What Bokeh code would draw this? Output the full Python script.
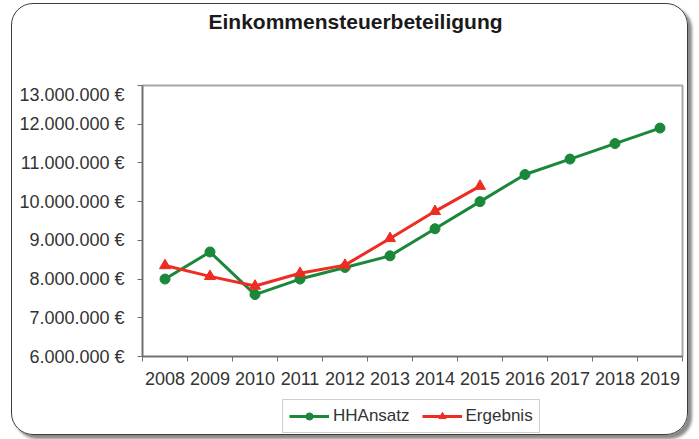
from bokeh.plotting import figure
from bokeh.models import FixedTicker, Legend, LegendItem
from bokeh.layouts import column
from bokeh.embed import file_html
from bokeh.resources import INLINE

title_text = "Einkommensteuerbeteiligung"
years = [2008, 2009, 2010, 2011, 2012, 2013, 2014, 2015, 2016, 2017, 2018, 2019]
hh_ansatz = [8.0e6, 8.7e6, 7.6e6, 8.0e6, 8.3e6, 8.6e6, 9.3e6, 10.0e6, 10.7e6, 11.1e6, 11.5e6, 11.9e6]
ergebnis_years = [2008, 2009, 2010, 2011, 2012, 2013, 2014, 2015]
ergebnis = [8.35e6, 8.07e6, 7.82e6, 8.15e6, 8.36e6, 9.05e6, 9.75e6, 10.4e6]
y_ticks = [6e6, 7e6, 8e6, 9e6, 10e6, 11e6, 12e6, 13e6]
y_tick_labels = ["6.000.000 €", "7.000.000 €", "8.000.000 €", "9.000.000 €",
                 "10.000.000 €", "11.000.000 €", "12.000.000 €", "13.000.000 €"]
series_names = ["HHAnsatz", "Ergebnis"]

GREEN = "#1a873a"
RED = "#ee2c22"
FONT = "Liberation Sans"


def strip(height):
    f = figure(width=675, height=height, output_backend="svg", toolbar_location=None,
               x_range=(0, 1), y_range=(0, 1), x_axis_location=None, y_axis_location=None,
               min_border_left=130, min_border_right=5, min_border_top=0, min_border_bottom=0)
    f.grid.visible = False
    f.outline_line_color = None
    f.border_fill_color = None
    f.background_fill_color = None
    return f


# ---- title strip ----
tf = strip(80)
tf.title.text = title_text
tf.title.align = "left"
tf.title.offset = 66
tf.title.standoff = 6
tf.title.text_font = FONT
tf.title.text_font_size = "21px"
tf.title.text_font_style = "bold"
tf.title.text_color = "#1a1a1a"

# ---- main chart ----
p = figure(width=675, height=310, output_backend="svg", toolbar_location=None,
           x_range=(years[0] - 0.5, years[-1] + 0.5), y_range=(y_ticks[0], y_ticks[-1]),
           min_border_left=130, min_border_right=5, min_border_top=1, min_border_bottom=38)
p.border_fill_color = None
p.background_fill_color = "white"
p.outline_line_color = "#a8a8a8"
p.outline_line_width = 2
p.xgrid.visible = False
p.ygrid.visible = False

p.yaxis.ticker = FixedTicker(ticks=y_ticks, minor_ticks=[])
p.yaxis.major_label_overrides = {t: lab for t, lab in zip(y_ticks, y_tick_labels)}
p.yaxis.major_tick_out = 5
p.yaxis.major_tick_in = 0
p.yaxis.major_label_standoff = 13

p.xaxis.ticker = FixedTicker(ticks=years, minor_ticks=[y - 0.5 for y in years] + [years[-1] + 0.5])
p.xaxis.major_label_overrides = {y: str(y) for y in years}
p.xaxis.minor_tick_out = 5
p.xaxis.minor_tick_in = 0
p.xaxis.major_label_standoff = 9

for ax in (p.xaxis, p.yaxis):
    ax.axis_line_color = "#6e6e6e"
    ax.axis_line_width = 1.5
    ax.major_label_text_font = FONT
    ax.major_label_text_font_size = "18px"
    ax.major_label_text_color = "#333333"
p.yaxis.major_tick_line_color = "#6e6e6e"
p.yaxis.minor_tick_line_color = None
p.xaxis.major_tick_line_color = None
p.xaxis.minor_tick_line_color = "#6e6e6e"

p.line(years, hh_ansatz, line_color=GREEN, line_width=3)
p.scatter(years, hh_ansatz, marker="circle", size=10, fill_color=GREEN, line_color=GREEN)
p.line(ergebnis_years, ergebnis, line_color=RED, line_width=3)
p.scatter(ergebnis_years, ergebnis, marker="triangle", size=11, fill_color=RED, line_color=RED)

# ---- legend strip (series drawn outside its ranges, so only legend glyphs show) ----
lp = strip(40)
ll1 = lp.line(years, hh_ansatz, line_color=GREEN, line_width=3)
lm1 = lp.scatter(years, hh_ansatz, marker="circle", size=10, fill_color=GREEN, line_color=GREEN)
ll2 = lp.line(ergebnis_years, ergebnis, line_color=RED, line_width=3)
lm2 = lp.scatter(ergebnis_years, ergebnis, marker="triangle", size=11, fill_color=RED, line_color=RED)

legend = Legend(items=[LegendItem(label=series_names[0], renderers=[ll1, lm1]),
                       LegendItem(label=series_names[1], renderers=[ll2, lm2])],
                orientation="horizontal", location=(140, 1),
                label_text_font=FONT, label_text_font_size="17px", label_text_color="#333333",
                glyph_width=40, glyph_height=18, spacing=12, padding=6, margin=0,
                label_standoff=4,
                border_line_color="#a0a0a0", border_line_width=1.5,
                background_fill_color="white")
lp.add_layout(legend, "center")

layout = column(tf, p, lp, spacing=0)
layout.styles = {"border": "1.5px solid #3c3c3c", "border-radius": "22px",
                 "box-shadow": "4px 4px 3px #8a8a8a", "margin-left": "11px", "margin-top": "3px"}

open("out.html", "w").write(file_html(layout, INLINE))
